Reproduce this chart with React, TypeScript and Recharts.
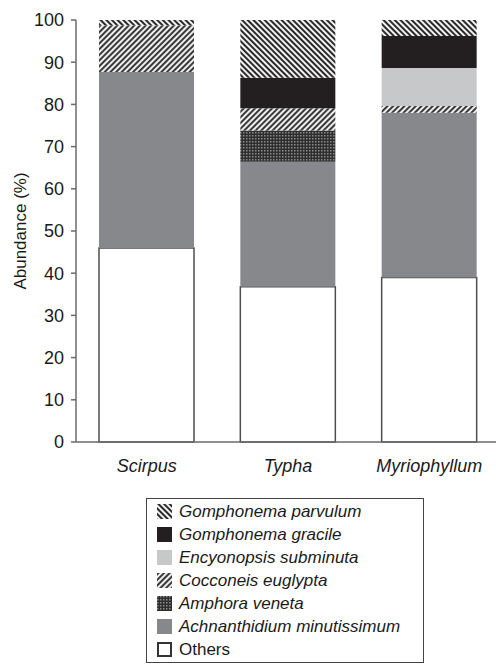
import { BarChart, Bar, XAxis, YAxis, Legend } from "recharts";

const sites = ["Scirpus", "Typha", "Myriophyllum"];
const others = [46, 36.8, 39];
const achnanthidium = [41.7, 29.6, 39];
const amphora = [0, 7.4, 0];
const cocconeis = [11, 5.3, 1.6];
const encyonopsis = [0, 0, 9];
const gracile = [0, 7.2, 7.6];
const parvulum = [1.3, 13.7, 3.8];
const yTicks = [0, 10, 20, 30, 40, 50, 60, 70, 80, 90, 100];

// bottom -> top stacking order
const series = [
  { key: "others", label: "Others", values: others, fill: "#ffffff", italic: false },
  { key: "achn", label: "Achnanthidium minutissimum", values: achnanthidium, fill: "#87888c", italic: true },
  { key: "amphora", label: "Amphora veneta", values: amphora, fill: "url(#pat-check)", italic: true },
  { key: "cocconeis", label: "Cocconeis euglypta", values: cocconeis, fill: "url(#pat-fwd)", italic: true },
  { key: "encyonopsis", label: "Encyonopsis subminuta", values: encyonopsis, fill: "#c7c8ca", italic: true },
  { key: "gracile", label: "Gomphonema gracile", values: gracile, fill: "#231f20", italic: true },
  { key: "parvulum", label: "Gomphonema parvulum", values: parvulum, fill: "url(#pat-back)", italic: true },
];

const data = sites.map((site, i) => {
  const row: Record<string, string | number> = { site };
  series.forEach((s) => {
    row[s.key] = s.values[i];
  });
  return row;
});

const FONT = "'Liberation Sans', Arial, Helvetica, sans-serif";
const AXIS = "#6b6b6b";

function Patterns() {
  return (
    <defs>
      <pattern id="pat-back" width="4" height="4" patternUnits="userSpaceOnUse" patternTransform="rotate(-45)">
        <rect width="4" height="4" fill="#f2f2f2" />
        <rect width="2" height="4" fill="#2a2a2a" />
      </pattern>
      <pattern id="pat-fwd" width="4" height="4" patternUnits="userSpaceOnUse" patternTransform="rotate(45)">
        <rect width="4" height="4" fill="#eeeeee" />
        <rect width="2" height="4" fill="#3a3a3a" />
      </pattern>
      <pattern id="pat-check" width="3" height="3" patternUnits="userSpaceOnUse">
        <rect width="3" height="3" fill="#2e2e2e" />
        <rect width="1.5" height="1.5" fill="#8a8a8a" />
      </pattern>
    </defs>
  );
}

function LegendBox() {
  const items = [...series].reverse();
  return (
    <div
      style={{
        border: "1px solid #444",
        padding: "1px 0",
        background: "#fff",
        fontFamily: FONT,
        fontSize: 17,
        color: "#1a1a1a",
        boxSizing: "border-box",
      }}
    >
      {items.map((s) => (
        <div key={s.key} style={{ display: "flex", alignItems: "center", height: 23, paddingLeft: 10 }}>
          <svg width={15} height={15} style={{ marginRight: 7, flexShrink: 0 }}>
            <rect
              x={s.key === "others" ? 1 : 0}
              y={s.key === "others" ? 1 : 0}
              width={s.key === "others" ? 13 : 15}
              height={s.key === "others" ? 13 : 15}
              fill={s.fill}
              stroke={s.key === "others" ? "#333" : "none"}
              strokeWidth={2}
            />
          </svg>
          <span style={{ fontStyle: s.italic ? "italic" : "normal", whiteSpace: "nowrap" }}>{s.label}</span>
        </div>
      ))}
    </div>
  );
}

export default function App() {
  return (
    <div style={{ position: "absolute", left: 0, top: 0, width: 496, height: 670, overflow: "hidden", background: "#fff" }}>
      <BarChart
        width={500}
        height={670}
        data={data}
        margin={{ top: 20, right: 0, bottom: 198, left: 0 }}
        barSize={95}
      >
        <Patterns />
        <XAxis
          dataKey="site"
          height={30}
          tickLine={false}
          axisLine={{ stroke: AXIS, strokeWidth: 1.5 }}
          tick={{ fontSize: 18, fontStyle: "italic", fill: "#1a1a1a", fontFamily: FONT }}
          tickMargin={11}
        />
        <YAxis
          width={76}
          domain={[0, 100]}
          ticks={yTicks}
          interval={0}
          tickSize={5}
          tickMargin={7}
          axisLine={{ stroke: AXIS, strokeWidth: 1.5 }}
          tickLine={{ stroke: AXIS, strokeWidth: 1.5 }}
          tick={{ fontSize: 18, fill: "#1a1a1a", fontFamily: FONT }}
          label={{
            value: "Abundance (%)",
            angle: -90,
            position: "center",
            dx: -18,
            style: { fontSize: 17, fill: "#1a1a1a", fontFamily: FONT },
          }}
        />
        {series.map((s) => (
          <Bar
            key={s.key}
            dataKey={s.key}
            stackId="a"
            fill={s.fill}
            stroke={s.key === "others" ? "#4d4d4d" : "none"}
            strokeWidth={s.key === "others" ? 1.5 : 0}
            isAnimationActive={false}
          />
        ))}
        <Legend
          layout="vertical"
          align="center"
          verticalAlign="middle"
          content={<LegendBox />}
          wrapperStyle={{ top: 498, left: 146, width: 278, height: "auto" }}
        />
      </BarChart>
    </div>
  );
}
